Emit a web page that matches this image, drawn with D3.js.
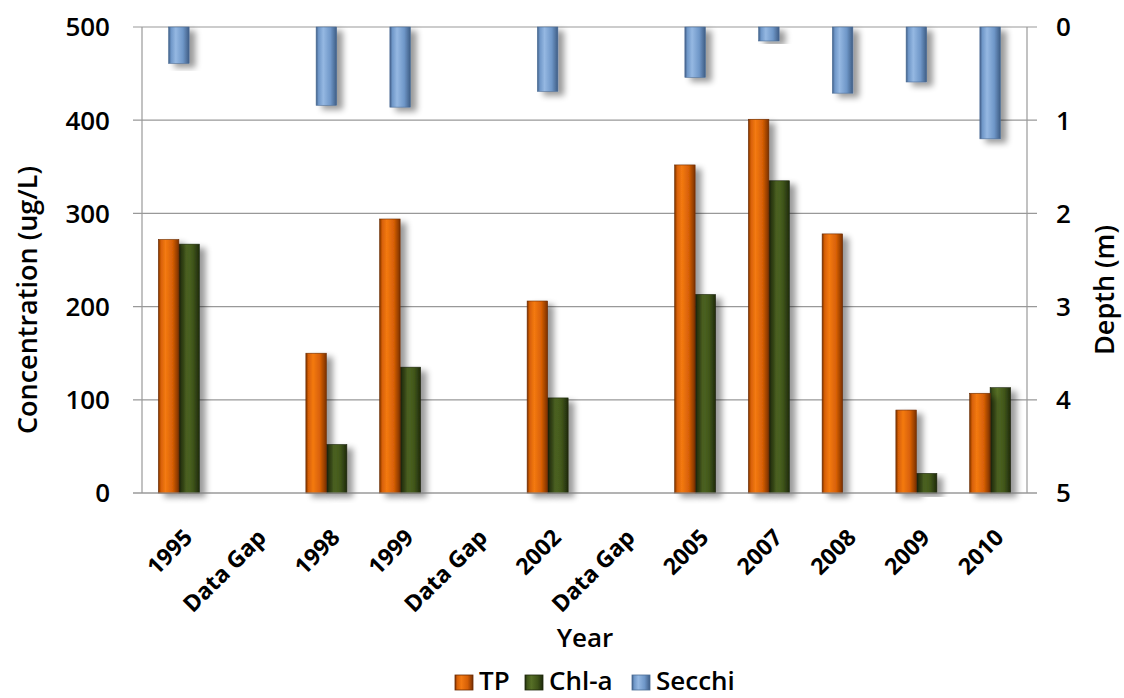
<!DOCTYPE html>
<html>
<head>
<meta charset="utf-8">
<script src="https://cdn.jsdelivr.net/npm/d3@7"></script>
<style>
  body { margin: 0; background: #fff; }
  svg { display: block; }
  .lbl { font-family: "Open Sans", "Liberation Sans", sans-serif; fill: #000; }
</style>
</head>
<body>
<div id="chart"></div>
<script>
// Categories along the x axis
const years = ['1995', 'Data Gap', '1998', '1999', 'Data Gap', '2002', 'Data Gap', '2005', '2007', '2008', '2009', '2010'];

// Series values (null = no data)
const tpValues = [272, null, 150, 294, null, 206, null, 352, 401, 278, 89, 107];
const chlValues = [267, null, 52, 135, null, 102, null, 213, 335, null, 21, 113];
const secchiValues = [0.39, null, 0.84, 0.86, null, 0.69, null, 0.54, 0.15, 0.71, 0.59, 1.2];

const concTicks = [0, 100, 200, 300, 400, 500];
const depthTicks = [0, 1, 2, 3, 4, 5];

const width = 1124, height = 698;
const margin = { top: 27, left: 142 };
const plotW = 1027 - margin.left;
const plotH = 493 - margin.top;

const svg = d3.select('#chart').append('svg')
    .attr('width', width)
    .attr('height', height);

// Gradients for the glossy 3D bars
const defs = svg.append('defs');
function addGradient(id, dark, mid, light) {
    const g = defs.append('linearGradient').attr('id', id)
        .attr('x1', '0%').attr('x2', '100%').attr('y1', '0%').attr('y2', '0%');
    g.append('stop').attr('offset', '0%').attr('stop-color', dark);
    g.append('stop').attr('offset', '12%').attr('stop-color', mid);
    g.append('stop').attr('offset', '35%').attr('stop-color', light);
    g.append('stop').attr('offset', '70%').attr('stop-color', mid);
    g.append('stop').attr('offset', '100%').attr('stop-color', dark);
}
addGradient('gTP', '#7a3004', '#d65f06', '#f47a12');
addGradient('gChl', '#1f2a0c', '#3f5419', '#566f26');
addGradient('gSec', '#3f5d85', '#6f97c8', '#95b8e2');

// Soft drop shadow to the lower right
const shadow = defs.append('filter').attr('id', 'shadow')
    .attr('x', '-50%').attr('y', '-20%').attr('width', '220%').attr('height', '140%');
shadow.append('feGaussianBlur').attr('in', 'SourceAlpha').attr('stdDeviation', 3);
shadow.append('feOffset').attr('dx', 6).attr('dy', 4).attr('result', 'ob');
shadow.append('feComponentTransfer').append('feFuncA').attr('type', 'linear').attr('slope', 0.4);
const merge = shadow.append('feMerge');
merge.append('feMergeNode');
merge.append('feMergeNode').attr('in', 'SourceGraphic');

const g = svg.append('g').attr('transform', `translate(${margin.left},${margin.top})`);

// Scales
const x = d3.scaleBand()
    .domain(d3.range(years.length))
    .range([0, plotW])
    .padding(0);

const yConc = d3.scaleLinear().domain([0, 500]).range([plotH, 0]);
const yDepth = d3.scaleLinear().domain([0, 5]).range([0, plotH]);

const barW = 20.5;

// Gridlines
g.append('g')
    .selectAll('line')
    .data(concTicks)
    .join('line')
    .attr('x1', -9)
    .attr('x2', plotW + 10)
    .attr('y1', d => yConc(d))
    .attr('y2', d => yConc(d))
    .attr('stroke', '#999')
    .attr('stroke-width', 1.2);

// Vertical axis lines
g.append('line').attr('x1', 0).attr('x2', 0).attr('y1', 0).attr('y2', plotH)
    .attr('stroke', '#999').attr('stroke-width', 1.2);
g.append('line').attr('x1', plotW).attr('x2', plotW).attr('y1', 0).attr('y2', plotH)
    .attr('stroke', '#999').attr('stroke-width', 1.2);

// Bars
const center = i => x(i) + x.bandwidth() / 2;

const tpData = tpValues.map((v, i) => ({ i, v })).filter(d => d.v != null);
const chlData = chlValues.map((v, i) => ({ i, v })).filter(d => d.v != null);
const secData = secchiValues.map((v, i) => ({ i, v })).filter(d => d.v != null);

// Secchi hangs down from the top on the depth axis
g.append('g').selectAll('rect')
    .data(secData)
    .join('rect')
    .attr('x', d => center(d.i) - barW / 2)
    .attr('y', yDepth(0))
    .attr('width', barW)
    .attr('height', d => yDepth(d.v))
    .attr('fill', 'url(#gSec)')
    .attr('stroke', '#4a6b94')
    .attr('stroke-width', 0.6)
    .attr('filter', 'url(#shadow)');

g.append('g').selectAll('rect')
    .data(chlData)
    .join('rect')
    .attr('x', d => center(d.i))
    .attr('y', d => yConc(d.v))
    .attr('width', barW)
    .attr('height', d => plotH - yConc(d.v))
    .attr('fill', 'url(#gChl)')
    .attr('stroke', '#1d270a')
    .attr('stroke-width', 0.6)
    .attr('filter', 'url(#shadow)');

g.append('g').selectAll('rect')
    .data(tpData)
    .join('rect')
    .attr('x', d => center(d.i) - barW)
    .attr('y', d => yConc(d.v))
    .attr('width', barW)
    .attr('height', d => plotH - yConc(d.v))
    .attr('fill', 'url(#gTP)')
    .attr('stroke', '#6a2a02')
    .attr('stroke-width', 0.6)
    .attr('filter', 'url(#shadow)');

// Bottom axis line
g.append('line').attr('x1', -9).attr('x2', plotW + 10).attr('y1', plotH).attr('y2', plotH)
    .attr('stroke', '#999').attr('stroke-width', 1.2);

// Left tick labels
g.append('g').selectAll('text')
    .data(concTicks)
    .join('text')
    .attr('class', 'lbl')
    .attr('x', 110 - margin.left)
    .attr('y', d => yConc(d))
    .attr('dy', '0.36em')
    .attr('text-anchor', 'end')
    .style('font-size', '26px')
    .style('font-weight', 600)
    .text(d => d);

// Right tick labels
g.append('g').selectAll('text')
    .data(depthTicks)
    .join('text')
    .attr('class', 'lbl')
    .attr('x', 1056 - margin.left)
    .attr('y', d => yDepth(d))
    .attr('dy', '0.36em')
    .attr('text-anchor', 'start')
    .style('font-size', '26px')
    .style('font-weight', 600)
    .text(d => d);

// X tick labels, rotated 45 degrees
g.append('g').selectAll('text')
    .data(years)
    .join('text')
    .attr('class', 'lbl')
    .attr('transform', (d, i) => `translate(${center(i) + 15},${plotH + 46}) rotate(-45)`)
    .attr('text-anchor', 'end')
    .style('font-size', '23px')
    .style('font-weight', 'bold')
    .text(d => d);

// Axis titles
svg.append('text')
    .attr('class', 'lbl')
    .attr('transform', 'translate(37,300) rotate(-90)')
    .attr('text-anchor', 'middle')
    .style('font-size', '27px')
    .style('font-weight', 600)
    .text('Concentration (ug/L)');

svg.append('text')
    .attr('class', 'lbl')
    .attr('transform', 'translate(1114,290) rotate(-90)')
    .attr('text-anchor', 'middle')
    .style('font-size', '27px')
    .style('font-weight', 600)
    .text('Depth (m)');

svg.append('text')
    .attr('class', 'lbl')
    .attr('x', 585)
    .attr('y', 647)
    .attr('text-anchor', 'middle')
    .style('font-size', '26px')
    .style('font-weight', 600)
    .text('Year');

// Legend
const legendItems = [
    { name: 'TP', fill: 'url(#gTP)', stroke: '#6a2a02', x: 455 },
    { name: 'Chl-a', fill: 'url(#gChl)', stroke: '#1d270a', x: 525 },
    { name: 'Secchi', fill: 'url(#gSec)', stroke: '#4a6b94', x: 632 }
];
const legend = svg.append('g');
const item = legend.selectAll('g')
    .data(legendItems)
    .join('g')
    .attr('transform', d => `translate(${d.x},675)`);
item.append('rect')
    .attr('width', 18)
    .attr('height', 15)
    .attr('fill', d => d.fill)
    .attr('stroke', d => d.stroke)
    .attr('stroke-width', 0.8);
item.append('text')
    .attr('class', 'lbl')
    .attr('x', 24)
    .attr('y', 15)
    .style('font-size', '26px')
    .style('font-weight', 600)
    .text(d => d.name);
</script>
</body>
</html>
